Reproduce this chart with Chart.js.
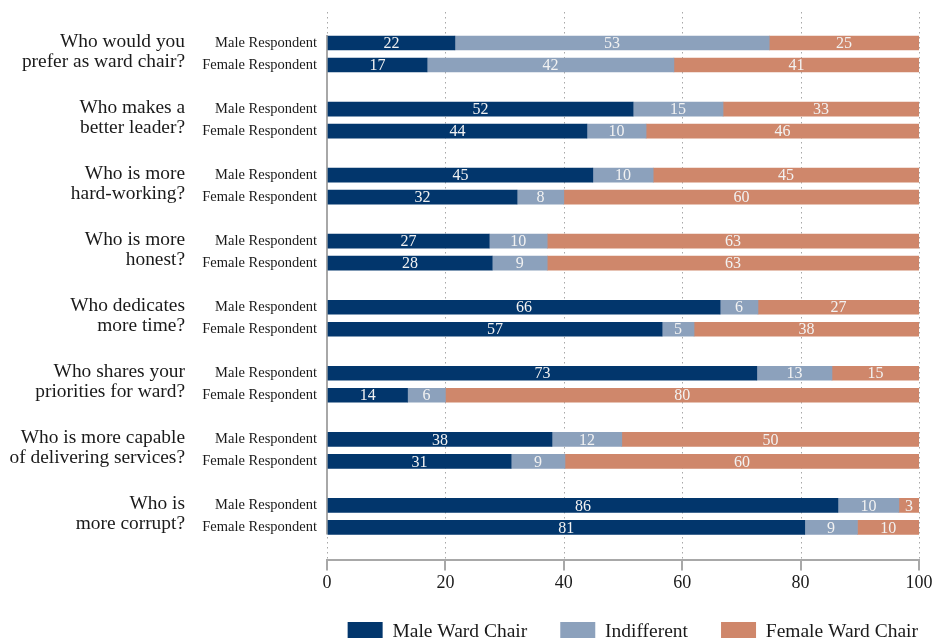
<!DOCTYPE html>
<html>
<head>
<meta charset="utf-8">
<script src="https://cdn.jsdelivr.net/npm/chart.js@4"></script>
<style>
  html, body { margin: 0; padding: 0; background: #fff; overflow: hidden; }
  #wrap { width: 935px; height: 652px; position: relative; }
</style>
</head>
<body>
<div id="wrap"><canvas id="chart"></canvas></div>
<script>
const questions = [
  ['Who would you', 'prefer as ward chair?'],
  ['Who makes a', 'better leader?'],
  ['Who is more', 'hard-working?'],
  ['Who is more', 'honest?'],
  ['Who dedicates', 'more time?'],
  ['Who shares your', 'priorities for ward?'],
  ['Who is more capable', 'of delivering services?'],
  ['Who is', 'more corrupt?'],
];
const respondents = ['Male Respondent', 'Female Respondent'];

// one value per bar: male respondent, female respondent, question by question (%)
const maleChair   = [21.6, 16.9, 51.7, 43.9, 44.9, 32.1, 27.4, 27.9, 66.4, 56.6, 72.6, 13.6, 38.0, 31.1, 86.3, 80.7];
const indifferent = [53.1, 41.7, 15.2, 10.0, 10.2,  7.9,  9.8,  9.3,  6.4,  5.4, 12.7,  6.4, 11.8,  9.1, 10.3,  8.9];
const femaleChair = [25.3, 41.4, 33.1, 46.1, 44.9, 60.0, 62.8, 62.8, 27.2, 38.0, 14.7, 80.0, 50.2, 59.8,  3.4, 10.4];

const xTicks = [0, 20, 40, 60, 80, 100];

const FONT = "'Liberation Serif', 'Times New Roman', serif";
const NAVY = '#02366C';
const GREYBLUE = '#8CA1BC';
const SALMON = '#CF876B';

// category slots: a spacer on top, then Male / Female / spacer for each question
const labels = [''];
function withSpacers(values) {
  const out = [null];
  for (let q = 0; q < questions.length; q++) {
    out.push(values[2 * q], values[2 * q + 1], null);
  }
  return out;
}
questions.forEach(() => labels.push(respondents[0], respondents[1], ''));

const gridAndAxis = {
  id: 'gridAndAxis',
  afterLayout(chart) {
    // legend sits centred under the plot, not the whole canvas
    chart.legend.left += 32;
    chart.legend.right += 32;
  },
  beforeDatasetsDraw(chart) {
    const { ctx, chartArea, scales } = chart;
    ctx.save();
    ctx.strokeStyle = '#a8a8a8';
    ctx.lineWidth = 1;
    ctx.setLineDash([1.5, 3.5]);
    xTicks.forEach(v => {
      const x = Math.round(scales.x.getPixelForValue(v)) + 0.5;
      ctx.beginPath();
      ctx.moveTo(x, chartArea.top + 2);
      ctx.lineTo(x, chartArea.bottom);
      ctx.stroke();
    });
    // solid left axis spanning the bars only
    ctx.setLineDash([]);
    ctx.lineWidth = 2;
    const x0 = scales.x.getPixelForValue(0);
    const yTop = scales.y.getPixelForValue(1) - 8;
    const yBot = scales.y.getPixelForValue(labels.length - 2) + 7;
    ctx.beginPath();
    ctx.moveTo(x0, yTop);
    ctx.lineTo(x0, yBot);
    ctx.stroke();
    ctx.restore();
  },
  afterDatasetsDraw(chart) {
    const { ctx } = chart;
    ctx.save();
    ctx.font = '16px ' + FONT;
    ctx.fillStyle = '#f2f2f2';
    ctx.textAlign = 'center';
    ctx.textBaseline = 'middle';
    chart.data.datasets.forEach((ds, i) => {
      const meta = chart.getDatasetMeta(i);
      meta.data.forEach((bar, j) => {
        const v = ds.data[j];
        if (v == null) return;
        ctx.fillText(String(Math.round(v)), (bar.x + bar.base) / 2, bar.y + 1);
      });
    });
    ctx.restore();
  },
  afterDraw(chart) {
    const { ctx, scales } = chart;
    ctx.save();
    ctx.font = '19.4px ' + FONT;
    ctx.fillStyle = '#1a1a1a';
    ctx.textAlign = 'right';
    ctx.textBaseline = 'middle';
    questions.forEach((lines, q) => {
      const yM = scales.y.getPixelForValue(1 + 3 * q);
      const yF = scales.y.getPixelForValue(2 + 3 * q);
      const mid = (yM + yF) / 2;
      ctx.fillText(lines[0], 185, mid - 12);
      ctx.fillText(lines[1], 185, mid + 8);
    });
    ctx.restore();
  }
};

new Chart(document.getElementById('chart'), {
  type: 'bar',
  data: {
    labels: labels,
    datasets: [
      { label: 'Male Ward Chair', data: withSpacers(maleChair), backgroundColor: NAVY },
      { label: 'Indifferent', data: withSpacers(indifferent), backgroundColor: GREYBLUE },
      { label: 'Female Ward Chair', data: withSpacers(femaleChair), backgroundColor: SALMON },
    ],
  },
  options: {
    indexAxis: 'y',
    responsive: true,
    maintainAspectRatio: false,
    animation: false,
    barThickness: 14,
    borderWidth: 0,
    layout: { padding: { top: 10, right: 16, left: 0, bottom: 0 } },
    scales: {
      x: {
        type: 'linear',
        stacked: true,
        min: 0,
        max: 100,
        afterBuildTicks: (scale) => { scale.ticks = xTicks.map(v => ({ value: v })); },
        afterFit: (scale) => { scale.height -= 7; },
        grid: { drawOnChartArea: false, drawTicks: true, tickLength: 10, color: '#a8a8a8', lineWidth: 2 },
        border: { display: true, color: '#a8a8a8', width: 2 },
        ticks: { color: '#1a1a1a', padding: 2, font: { family: FONT, size: 18 } },
      },
      y: {
        stacked: true,
        grid: { display: false, drawTicks: false },
        border: { display: false },
        ticks: { color: '#1a1a1a', padding: 10, autoSkip: false, font: { family: FONT, size: 14.5 } },
        afterFit: (scale) => {
          scale.width = 327;
          scale.paddingTop = 0;
          scale.paddingBottom = 0;
        },
      },
    },
    plugins: {
      legend: {
        position: 'bottom',
        align: 'end',
        labels: {
          boxWidth: 35,
          boxHeight: 20,
          padding: 33,
          color: '#1a1a1a',
          font: { family: FONT, size: 19.5 },
        },
      },
      tooltip: { enabled: false },
    },
  },
  plugins: [gridAndAxis],
});
</script>
</body>
</html>
